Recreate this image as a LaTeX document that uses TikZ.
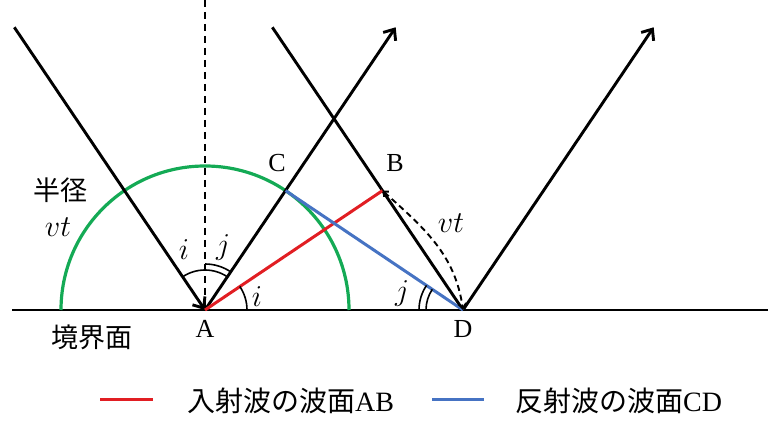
\documentclass[tikz,border=0pt]{standalone}
\usepackage{fontspec}
\setmainfont{Liberation Serif}
\newfontfamily\jp{Noto Sans CJK JP}
\usetikzlibrary{arrows.meta}
\definecolor{wgreen}{RGB}{20,170,85}
\definecolor{wred}{RGB}{225,30,35}
\definecolor{wblue}{RGB}{70,115,195}
\tikzset{
  ray/.style={line width=2.9pt, black},
  tipA/.style={-{Straight Barb[length=9pt,width=15pt]}},
  anglemark/.style={line width=1.6pt, black},
  lbl/.style={inner sep=0pt, font=\fontsize{26}{30}\selectfont},
  mlbl/.style={inner sep=0pt, scale=1.22, font=\fontsize{24.88}{30}\selectfont},
  jlbl/.style={inner sep=0pt, font=\jp\fontsize{27}{30}\selectfont},
  leg/.style={inner sep=0pt, font=\jp\fontsize{28}{30}\selectfont},
}
\begin{document}
\begin{tikzpicture}[x=1pt,y=1pt]
\useasboundingbox (0,0) rectangle (768,428);
% key points
\coordinate (A) at (205,118);
\coordinate (D) at (463,118);
\coordinate (L) at (12,118);
\coordinate (R) at (768,118);
\coordinate (N) at (205,428);
\path (A) ++(124:341) coordinate (S1);
\path (A) ++(56:341) coordinate (T1);
\path (D) ++(124:341) coordinate (S2);
\path (D) ++(56:341) coordinate (T2);
\path (A) ++(56:144) coordinate (C);
\path (D) ++(124:144) coordinate (B);
% boundary and normal
\draw[ray] (L) -- (R);
\draw[line width=1.9pt, dash pattern=on 7pt off 5pt] (N) -- (A);
% green semicircle
\draw[wgreen, line width=3.2pt] ([shift={(0:144)}]A) arc (0:180:144);
% rays
\draw[ray, tipA] (S1) -- (A);
\draw[ray, tipA] (A) -- (T1);
\draw[ray] (S2) -- (D);
\draw[ray, tipA] (D) -- (T2);
% wavefronts
\draw[wred, line width=3pt] (A) -- (B);
\draw[wblue, line width=3pt] (C) -- (D);
% dashed arc vt
\draw[line width=1.9pt, dash pattern=on 6pt off 4pt, {Straight Barb[length=4pt,width=7pt]}-{Straight Barb[length=5pt,width=8pt]}] (B) to[out=-42,in=98] (D);
% angle marks
\draw[anglemark] ([shift={(90:40)}]A) arc (90:124:40);
\draw[anglemark] ([shift={(56:40)}]A) arc (56:90:40);
\draw[anglemark] ([shift={(56:46)}]A) arc (56:90:46);
\draw[anglemark] ([shift={(0:42)}]A) arc (0:34:42);
\draw[anglemark] ([shift={(146:37)}]D) arc (146:180:37);
\draw[anglemark] ([shift={(146:44)}]D) arc (146:180:44);
% labels
\node[lbl] (lA) at (205,99) {A};
\node[lbl] (lD) at (463,99) {D};
\node[lbl] (lC) at (277,265) {C};
\node[lbl] (lB) at (395,265) {B};
\node[mlbl] (li1) at (184,178) {$i$};
\node[mlbl] (lj1) at (223,180) {$j$};
\node[mlbl] (li2) at (257,131) {$i$};
\node[mlbl] (lj2) at (402,134) {$j$};
\node[mlbl] (lvt) at (451,205) {$vt$};
\node[jlbl] (lr) at (60,238) {半径};
\node[mlbl] (lvt2) at (58,201) {$vt$};
\node[jlbl] (lb) at (92,91) {境界面};
% legend
\coordinate (r1) at (100,28);
\coordinate (r2) at (153,28);
\coordinate (b1) at (432,28);
\coordinate (b2) at (484,28);
\draw[wred, line width=3pt] (r1) -- (r2);
\draw[wblue, line width=3pt] (b1) -- (b2);
\node[leg, anchor=west] (legAB) at (187,27) {入射波の波面{\rmfamily AB}};
\node[leg, anchor=west] (legCD) at (515,27) {反射波の波面{\rmfamily CD}};
\end{tikzpicture}
\end{document}
